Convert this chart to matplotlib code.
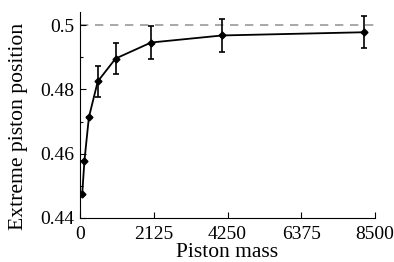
import matplotlib
matplotlib.use('Agg')
import matplotlib.pyplot as plt
from matplotlib.ticker import MultipleLocator

mass = [64, 128, 256, 512, 1024, 2048, 4096, 8192]
position = [0.4474, 0.4578, 0.4713, 0.4825, 0.4896, 0.4946, 0.4968, 0.4978]
error = [0.0, 0.0, 0.0, 0.0047, 0.0047, 0.005, 0.005, 0.005]
xticks = [0, 2125, 4250, 6375, 8500]
yticks = [0.44, 0.46, 0.48, 0.5]
ytick_labels = ['0.44', '0.46', '0.48', '0.5']

plt.rcParams['font.family'] = ['Liberation Serif', 'DejaVu Serif']
plt.rcParams['font.size'] = 14

fig = plt.figure(figsize=(3.94, 2.62), dpi=100)
ax = fig.add_axes([0.203, 0.168, 0.749, 0.785])

ax.axhline(0.5, color='#999999', ls=(0, (5, 4)), lw=1.2, zorder=1)
ax.errorbar(mass, position, yerr=error, color='black', lw=1.3, marker='D', ms=3.5,
            capsize=2.5, elinewidth=1.2, capthick=1.2, zorder=3)

ax.set_xlim(0, 8500)
ax.set_ylim(0.44, 0.504)
ax.set_xticks(xticks)
ax.set_yticks(yticks)
ax.set_yticklabels(ytick_labels)
ax.yaxis.set_minor_locator(MultipleLocator(0.01))
ax.tick_params(direction='in', length=4, width=0.8, pad=4)
ax.tick_params(axis='x', pad=6)
ax.tick_params(which='minor', direction='in', length=2.5, width=0.8)
for s in ['top', 'right']:
    ax.spines[s].set_visible(False)
ax.set_xlabel('Piston mass', fontsize=15.5, labelpad=0)
ax.set_ylabel('Extreme piston position', fontsize=15.6)
ax.yaxis.set_label_coords(-0.175, 0.447)

fig.savefig('out.png', dpi=100)
